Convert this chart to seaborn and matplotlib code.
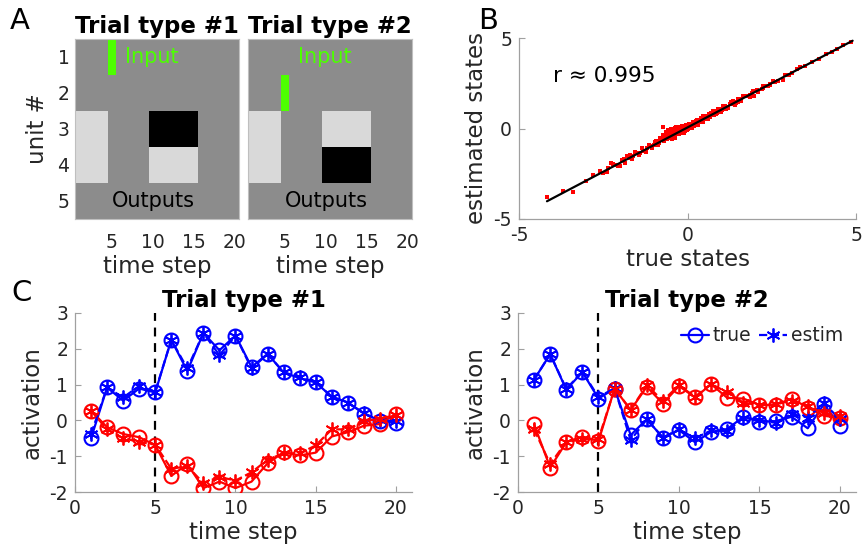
import numpy as np
import pandas as pd
import matplotlib
matplotlib.use("Agg")
import matplotlib.pyplot as plt
import seaborn as sns
from matplotlib.colors import ListedColormap
from matplotlib.lines import Line2D

sns.set_theme(style="white")
plt.rcParams["font.family"] = ["DejaVu Sans"]
plt.rcParams["axes.unicode_minus"] = False
plt.rcParams["text.color"] = "#262626"

# ---------------- data ----------------
time_steps = list(range(1, 21))
unit_labels = [1, 2, 3, 4, 5]
time_tick_labels = [5, 10, 15, 20]

# Panel A: target outputs per unit (1 = high, -1 = low, 0 = baseline), 20 steps
t1_unit3 = [1, 1, 1, 1, 0, 0, 0, 0, 0, -1, -1, -1, -1, -1, -1, 0, 0, 0, 0, 0]
t1_unit4 = [1, 1, 1, 1, 0, 0, 0, 0, 0, 1, 1, 1, 1, 1, 1, 0, 0, 0, 0, 0]
t2_unit3 = [1, 1, 1, 1, 0, 0, 0, 0, 0, 1, 1, 1, 1, 1, 1, 0, 0, 0, 0, 0]
t2_unit4 = [1, 1, 1, 1, 0, 0, 0, 0, 0, -1, -1, -1, -1, -1, -1, 0, 0, 0, 0, 0]
# input pulses
t1_input_unit1 = [0, 0, 0, 0, 1, 0, 0, 0, 0, 0, 0, 0, 0, 0, 0, 0, 0, 0, 0, 0]
t2_input_unit2 = [0, 0, 0, 0, 1, 0, 0, 0, 0, 0, 0, 0, 0, 0, 0, 0, 0, 0, 0, 0]

# Panel C: trial type 1
t1_blue_true = [-0.50, 0.92, 0.55, 0.89, 0.78, 2.25, 1.38, 2.44, 1.96, 2.37,
                1.49, 1.86, 1.34, 1.18, 1.06, 0.66, 0.50, 0.19, -0.01, -0.06]
t1_blue_est = [-0.38, 0.92, 0.64, 0.96, 0.80, 2.25, 1.45, 2.44, 1.82, 2.37,
               1.45, 1.85, 1.35, 1.20, 1.07, 0.66, 0.50, 0.20, 0.00, -0.02]
t1_red_true = [0.27, -0.19, -0.38, -0.47, -0.69, -1.55, -1.22, -1.89, -1.71, -1.89,
               -1.71, -1.20, -0.89, -0.98, -0.90, -0.45, -0.33, -0.15, -0.10, 0.19]
t1_red_est = [0.27, -0.25, -0.50, -0.60, -0.68, -1.35, -1.28, -1.75, -1.58, -1.68,
              -1.45, -1.10, -0.92, -0.92, -0.70, -0.25, -0.25, -0.03, 0.05, 0.15]
# Panel C: trial type 2
t2_blue_true = [1.14, 1.85, 0.86, 1.35, 0.61, 0.89, -0.41, 0.03, -0.48, -0.27,
                -0.61, -0.32, -0.24, 0.10, -0.04, -0.02, 0.10, -0.22, 0.45, -0.15]
t2_blue_est = [1.14, 1.85, 0.88, 1.36, 0.65, 0.90, -0.55, 0.03, -0.48, -0.25,
               -0.50, -0.28, -0.30, 0.08, 0.02, -0.07, 0.18, 0.08, 0.48, 0.03]
t2_red_true = [-0.11, -1.32, -0.61, -0.45, -0.58, 0.89, 0.29, 0.94, 0.47, 0.96,
               0.64, 1.01, 0.63, 0.61, 0.43, 0.43, 0.61, 0.36, 0.13, 0.07]
t2_red_est = [-0.25, -1.22, -0.60, -0.53, -0.52, 0.88, 0.30, 0.98, 0.55, 0.98,
              0.66, 1.02, 0.78, 0.50, 0.42, 0.45, 0.55, 0.40, 0.20, 0.12]
cue_step = 5

# Panel B: additional true/estimated state pairs
extra_true = [-4.17, -3.69, -3.40, -3.00, -2.80, -2.50, -2.35, -2.26, -2.10, -2.00,
              -1.90, -1.81, -1.70, -1.61, -1.50, -1.40, -1.32, -1.20, -1.12, -1.00,
              -0.92, -0.85, -0.72, -0.70, -0.62, -0.55, -0.52, -0.45, -0.40, -0.38,
              -0.30, -0.23, -0.20, -0.13, -0.10, -0.03, 0.00, 0.07, 0.12, 0.20,
              0.27, 0.35, 0.47, 0.55, 0.66, 0.76, 0.85, 0.95, 1.06, 1.15,
              1.25, 1.36, 1.45, 1.55, 1.65, 1.80, 1.90, 2.05, 2.20, 2.30,
              2.45, 2.60, 2.84, 3.00, 3.24, 3.50, 3.90, 4.30, 4.62, 4.85]
extra_est = [-3.80, -3.47, -3.53, -2.88, -2.55, -2.46, -2.20, -1.91, -2.00, -2.09,
             -1.75, -1.54, -1.62, -1.54, -1.35, -1.38, -1.26, -1.05, -0.99, -0.92,
             -0.71, -0.80, 0.06, -0.45, -0.34, -0.30, -0.16, -0.10, -0.25, 0.03,
             -0.05, -0.16, 0.05, 0.12, -0.08, -0.06, 0.10, 0.12, 0.02, 0.30,
             0.49, 0.35, 0.67, 0.50, 0.80, 0.95, 0.80, 1.05, 1.22, 1.10,
             1.35, 1.50, 1.40, 1.62, 1.78, 1.80, 1.98, 2.11, 2.18, 2.35,
             2.42, 2.55, 2.70, 2.95, 3.30, 3.45, 3.85, 4.25, 4.60, 4.80]
band_true = [-2.60, -2.40, -2.20, -2.05, -1.95, -1.85, -1.75, -1.65, -1.55, -1.45,
             -1.35, -1.25, -1.15, -1.05, -0.95, -0.88, -0.82, -0.78, -0.74, -0.68,
             -0.65, -0.60, -0.58, -0.50, -0.48, -0.44, -0.42, -0.36, -0.33, -0.28,
             -0.26, -0.18, -0.16, -0.08, -0.05, 0.02, 0.05, 0.10, 0.15, 0.18,
             0.25, 0.30, 0.40, 0.45, 0.52, 0.60, 0.70, 0.80, 0.90, 1.00,
             1.10, 1.20, 1.30, 1.40, 1.50, 1.60, 1.70, 1.85, 1.95, 2.10,
             2.25, 2.40, 2.55, 2.70, 2.90, 3.10, 3.35, 3.70, 4.10, 4.45]
band_est = [-2.35, -2.40, -1.95, -2.05, -1.72, -1.88, -1.50, -1.66, -1.30, -1.47,
            -1.10, -1.25, -0.90, -1.05, -0.72, -0.90, -0.50, -0.60, -0.35, -0.45,
            -0.20, -0.38, -0.10, -0.25, -0.05, -0.30, 0.00, -0.12, 0.08, -0.30,
            0.02, -0.22, 0.15, -0.12, 0.18, -0.05, 0.25, 0.02, 0.35, 0.12,
            0.42, 0.22, 0.58, 0.38, 0.70, 0.52, 0.86, 0.72, 1.05, 0.92,
            1.25, 1.12, 1.45, 1.32, 1.64, 1.52, 1.82, 1.76, 2.06, 2.02,
            2.34, 2.33, 2.62, 2.64, 2.96, 3.04, 3.40, 3.65, 4.12, 4.38]
fit_x = [-4.17, 4.90]
fit_y = [-4.02, 4.85]
r_value = 0.995

# ---------------- style ----------------
W, H = 864, 552
fig = plt.figure(figsize=(W / 100, H / 100), dpi=100)
TXT = "#262626"
SPINE = "#a0a0a0"
GREEN = "#4dff00"
TICK_FS = 13.5
LAB_FS = 16.5
TITLE_FS = 16.5
LETTER_FS = 21


def px_axes(x0, y0, x1, y1):
    return fig.add_axes([x0 / W, 1 - y1 / H, (x1 - x0) / W, (y1 - y0) / H])


cmap_out = ListedColormap(["#000000", "#8c8c8c", "#d9d9d9"])
cmap_in = ListedColormap([GREEN])


def heat_panel(ax, rows3, rows4, inp_row, inp_vals, title, show_y):
    mat = np.zeros((5, 20))
    mat[2] = rows3
    mat[3] = rows4
    inp = np.zeros((5, 20))
    inp[inp_row] = inp_vals
    sns.heatmap(mat, ax=ax, cmap=cmap_out, vmin=-1.5, vmax=1.5, cbar=False,
                xticklabels=False, yticklabels=False)
    sns.heatmap(inp, ax=ax, mask=(inp == 0), cmap=cmap_in, vmin=0, vmax=1,
                cbar=False, xticklabels=False, yticklabels=False)
    ax.set_xlim(0, 20)
    ax.set_ylim(5, 0)
    ax.set_xticks([t - 0.5 for t in time_tick_labels])
    ax.set_xticklabels([str(t) for t in time_tick_labels])
    ax.set_xticks([t - 0.5 for t in time_steps], minor=True)
    ax.set_yticks([u - 0.5 for u in unit_labels])
    if show_y:
        ax.set_yticklabels([str(u) for u in unit_labels])
        ax.set_ylabel("unit #", fontsize=LAB_FS, color=TXT, labelpad=6)
    else:
        ax.set_yticklabels([])
    ax.tick_params(axis="both", which="both", direction="in", top=True,
                   right=True, bottom=True, left=True, colors="#5a5a5a",
                   labelcolor=TXT, labelsize=TICK_FS, length=3, width=0.7)
    ax.tick_params(axis="x", which="major", length=0, pad=10)
    ax.tick_params(axis="y", which="major", pad=4)
    for s in ax.spines.values():
        s.set_visible(True)
        s.set_color("#bfbfbf")
        s.set_linewidth(0.8)
    ax.set_xlabel("time step", fontsize=LAB_FS, color=TXT, labelpad=2)
    ax.set_title(title, fontsize=TITLE_FS, fontweight="bold", color="black", pad=4)
    ax.text(6.1, 0.5, "Input", color=GREEN, fontsize=15, va="center", ha="left")
    ax.text(9.6, 4.5, "Outputs", color="black", fontsize=15, va="center", ha="center")


axA1 = px_axes(75, 39, 239, 219)
axA2 = px_axes(248, 39, 412, 219)
heat_panel(axA1, t1_unit3, t1_unit4, 0, t1_input_unit1, "Trial type #1", True)
heat_panel(axA2, t2_unit3, t2_unit4, 1, t2_input_unit2, "Trial type #2", False)

# ---------------- Panel B ----------------
axB = px_axes(519, 38, 856, 219)
true_states = (t1_blue_true + t1_red_true + t2_blue_true + t2_red_true
               + extra_true + band_true)
est_states = (t1_blue_est + t1_red_est + t2_blue_est + t2_red_est
              + extra_est + band_est)
dfB = pd.DataFrame({"true": true_states, "est": est_states})
sns.scatterplot(data=dfB, x="true", y="est", ax=axB, color="red", s=9,
                marker="s", linewidth=0, zorder=2)
sns.lineplot(x=fit_x, y=fit_y, ax=axB, color="black", lw=1.6, zorder=3)
axB.set_xlim(-5, 5)
axB.set_ylim(-5, 5)
axB.set_xticks([-5, 0, 5])
axB.set_yticks([-5, 0, 5])
axB.set_xlabel("true states", fontsize=LAB_FS, color=TXT, labelpad=2)
axB.set_ylabel("estimated states", fontsize=LAB_FS, color=TXT, labelpad=4)
axB.text(-4.0, 2.88, "r \u2248 %.3f" % r_value, fontsize=15.5, color="black",
         va="center", ha="left")

# ---------------- Panel C ----------------
axC1 = px_axes(75, 313, 412, 492)
axC2 = px_axes(518, 313, 856, 492)


def line_panel(ax, bt, be, rt, re_, title, legend):
    for col, tr, es in (("blue", bt, be), ("red", rt, re_)):
        sns.lineplot(x=time_steps, y=tr, ax=ax, color=col, lw=1.6, marker="o",
                     markersize=10, markerfacecolor="none", markeredgecolor=col,
                     markeredgewidth=1.5, zorder=3)
        sns.lineplot(x=time_steps, y=es, ax=ax, color=col, lw=1.6, linestyle="--",
                     marker=(6, 2, 0), markersize=10, markeredgecolor=col,
                     markeredgewidth=1.3, zorder=4)
    ax.axvline(cue_step, color="black", ls=(0, (4, 3)), lw=1.6, zorder=2)
    ax.set_xlim(0, 21)
    ax.set_ylim(-2, 3)
    ax.set_xticks([0, 5, 10, 15, 20])
    ax.set_yticks([-2, -1, 0, 1, 2, 3])
    ax.set_xlabel("time step", fontsize=LAB_FS, color=TXT, labelpad=2)
    ax.set_ylabel("activation", fontsize=LAB_FS, color=TXT, labelpad=4)
    ax.set_title(title, fontsize=TITLE_FS, fontweight="bold", color="black", pad=4)
    if legend:
        handles = [Line2D([], [], color="blue", lw=1.6, marker="o", markersize=10,
                          markerfacecolor="none", markeredgewidth=1.5),
                   Line2D([], [], color="blue", lw=1.6, ls="--", marker=(6, 2, 0),
                          markersize=10, markeredgewidth=1.3)]
        ax.legend(handles, ["true", "estim"], ncol=2, frameon=False,
                  fontsize=TICK_FS, loc="upper right", bbox_to_anchor=(1.0, 1.0),
                  handlelength=1.5, handletextpad=0.2, columnspacing=0.4,
                  borderaxespad=0.3)


line_panel(axC1, t1_blue_true, t1_blue_est, t1_red_true, t1_red_est, "Trial type #1", False)
line_panel(axC2, t2_blue_true, t2_blue_est, t2_red_true, t2_red_est, "Trial type #2", True)

for ax in (axB, axC1, axC2):
    for side in ("top", "right"):
        ax.spines[side].set_visible(False)
    for side in ("left", "bottom"):
        ax.spines[side].set_color(SPINE)
        ax.spines[side].set_linewidth(0.9)
    ax.tick_params(direction="in", length=4, width=0.8, colors=SPINE,
                   labelcolor=TXT, labelsize=TICK_FS, left=True, bottom=True, pad=5)
    ax.grid(False)

# panel letters
fig.text(10 / W, 1 - 21 / H, "A", fontsize=LETTER_FS, va="center", ha="left", color="black")
fig.text(478 / W, 1 - 21 / H, "B", fontsize=LETTER_FS, va="center", ha="left", color="black")
fig.text(11 / W, 1 - 293 / H, "C", fontsize=LETTER_FS, va="center", ha="left", color="black")

fig.savefig("out.png", dpi=100, facecolor="white")
